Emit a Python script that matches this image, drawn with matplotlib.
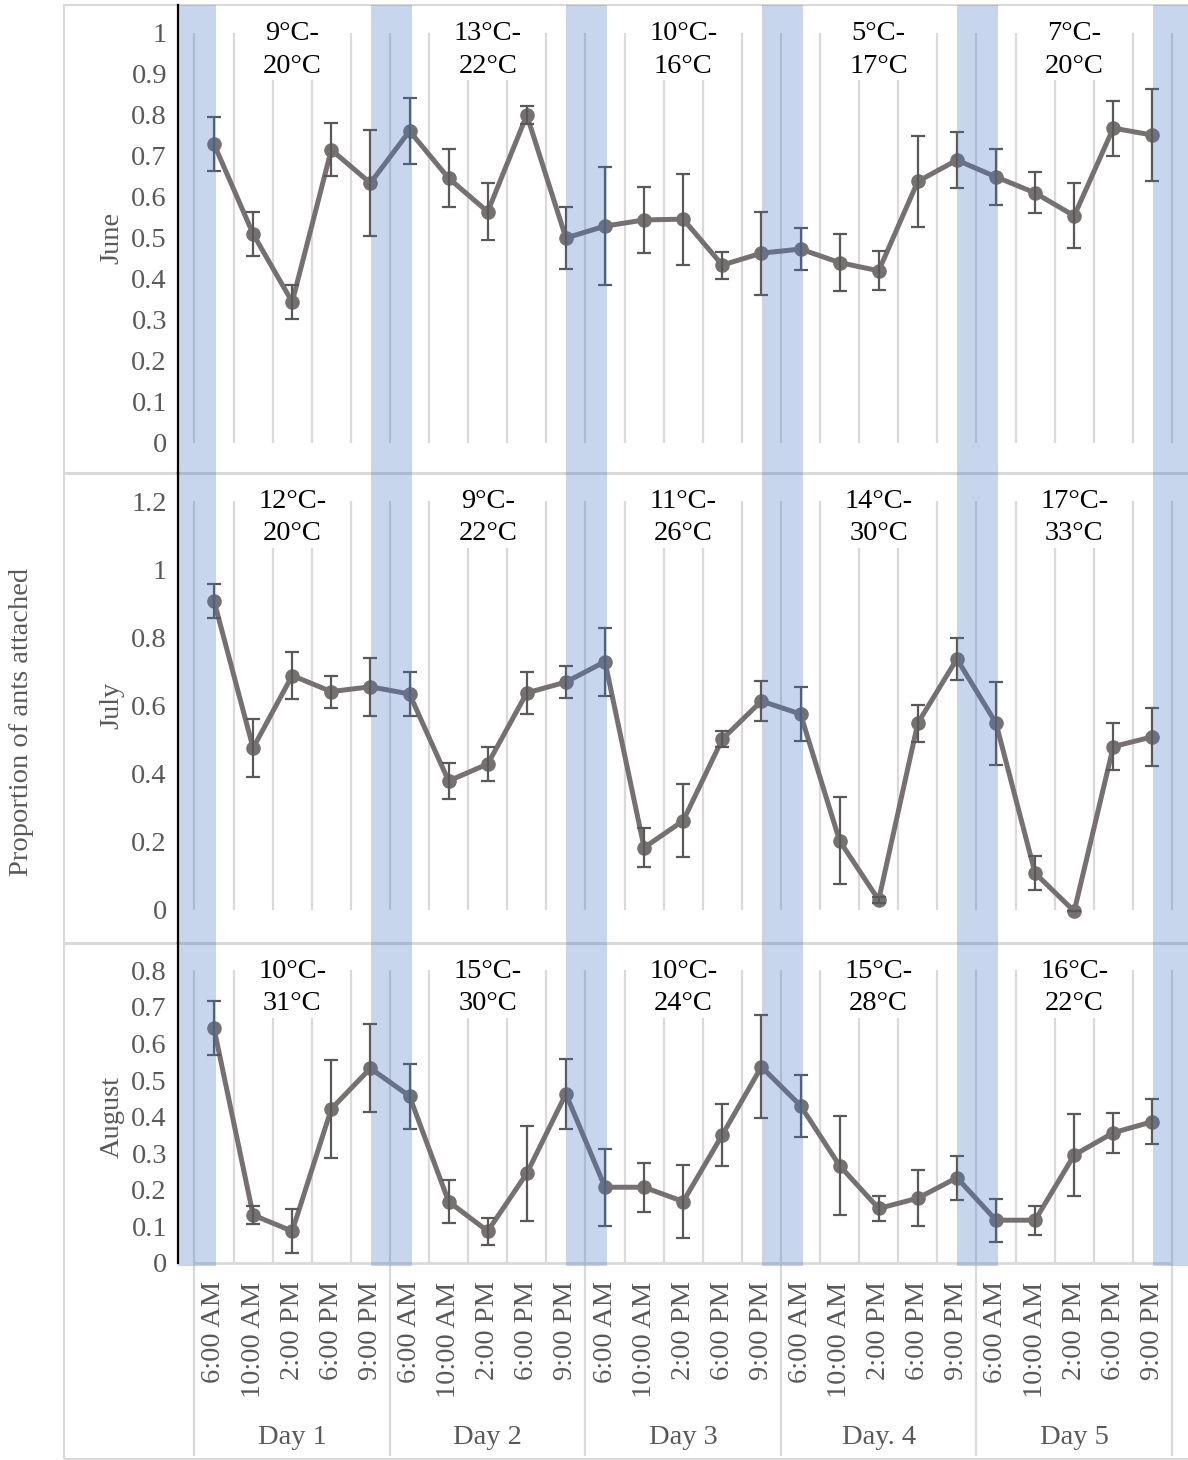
import matplotlib
matplotlib.use("Agg")
import matplotlib.pyplot as plt
import matplotlib.transforms as mtransforms
from matplotlib.lines import Line2D
from matplotlib.patches import Rectangle
import numpy as np

plt.rcParams["font.family"] = ["Liberation Serif", "DejaVu Serif"]

# ---- data ----
time_labels = ["6:00 AM", "10:00 AM", "2:00 PM", "6:00 PM", "9:00 PM"]
day_labels = ["Day 1", "Day 2", "Day 3", "Day. 4", "Day 5"]
months = ["June", "July", "August"]

june_mean = [0.729, 0.51, 0.344, 0.715, 0.634,
             0.761, 0.646, 0.564, 0.80, 0.50,
             0.529, 0.544, 0.546, 0.434, 0.463,
             0.473, 0.44, 0.42, 0.638, 0.69,
             0.649, 0.61, 0.554, 0.768, 0.751]
june_err = [0.065, 0.054, 0.042, 0.065, 0.13,
            0.081, 0.07, 0.069, 0.022, 0.075,
            0.144, 0.08, 0.111, 0.033, 0.101,
            0.051, 0.07, 0.048, 0.111, 0.068,
            0.068, 0.05, 0.079, 0.067, 0.113]

july_mean = [0.908, 0.475, 0.688, 0.641, 0.655,
             0.634, 0.378, 0.428, 0.637, 0.669,
             0.729, 0.182, 0.261, 0.501, 0.613,
             0.575, 0.202, 0.028, 0.548, 0.737,
             0.548, 0.107, -0.005, 0.479, 0.508]
july_err = [0.05, 0.084, 0.068, 0.047, 0.086,
            0.066, 0.053, 0.049, 0.061, 0.046,
            0.10, 0.057, 0.107, 0.024, 0.06,
            0.078, 0.128, 0.01, 0.054, 0.063,
            0.122, 0.05, 0.0, 0.069, 0.086]

aug_mean = [0.641, 0.131, 0.087, 0.421, 0.532,
            0.456, 0.168, 0.087, 0.245, 0.462,
            0.207, 0.207, 0.168, 0.35, 0.536,
            0.43, 0.266, 0.149, 0.177, 0.233,
            0.117, 0.117, 0.295, 0.356, 0.386]
aug_err = [0.074, 0.024, 0.06, 0.135, 0.12,
           0.089, 0.06, 0.037, 0.13, 0.095,
           0.105, 0.067, 0.1, 0.084, 0.141,
           0.085, 0.135, 0.034, 0.076, 0.06,
           0.059, 0.04, 0.113, 0.055, 0.061]

june_temps = ["9°C-\n20°C", "13°C-\n22°C", "10°C-\n16°C", "5°C-\n17°C", "7°C-\n20°C"]
july_temps = ["12°C-\n20°C", "9°C-\n22°C", "11°C-\n26°C", "14°C-\n30°C", "17°C-\n33°C"]
aug_temps = ["10°C-\n31°C", "15°C-\n30°C", "10°C-\n24°C", "15°C-\n28°C", "16°C-\n22°C"]

june_yticks = [0, 0.1, 0.2, 0.3, 0.4, 0.5, 0.6, 0.7, 0.8, 0.9, 1]
july_yticks = [0, 0.2, 0.4, 0.6, 0.8, 1, 1.2]
aug_yticks = [0, 0.1, 0.2, 0.3, 0.4, 0.5, 0.6, 0.7, 0.8]

# ---- layout (pixels of the 1188x1460 canvas) ----
W, H = 1188, 1460
AX_LEFT = 178
X0, DX = 214, 39.1          # first category centre, category width
LINE_C = "#767171"
ERR_C = "#595959"
TXT_C = "#595959"
GRID_C = "#d9d9d9"
BAND_C = "#4472c4"
FS = 20.5

panels = [
    dict(name=months[0], mean=june_mean, err=june_err, temps=june_temps, ticks=june_yticks,
         top=5, bottom=472.7, zero=443, unit=410),
    dict(name=months[1], mean=july_mean, err=july_err, temps=july_temps, ticks=july_yticks,
         top=472.7, bottom=942.7, zero=909.5, unit=340),
    dict(name=months[2], mean=aug_mean, err=aug_err, temps=aug_temps, ticks=aug_yticks,
         top=942.7, bottom=1266, zero=1263, unit=366),
]


def fy(px):
    return 1 - px / H


fig = plt.figure(figsize=(W / 100, H / 100), dpi=100)

# outer frame and panel separators
fig.add_artist(Rectangle((64 / W, fy(1459)), (W + 10 - 64) / W, (1459 - 5) / H,
                         transform=fig.transFigure, fill=False, edgecolor=GRID_C,
                         linewidth=1.5, zorder=-1))
for sep in (472.7, 942.7):
    fig.add_artist(Line2D([64 / W, 1], [fy(sep), fy(sep)], transform=fig.transFigure,
                          color=GRID_C, linewidth=2.2, zorder=-1))

n = len(june_mean)
x = np.arange(n)
n_days = len(day_labels)
per_day = len(time_labels)
xlim = ((AX_LEFT - X0) / DX, (W - X0) / DX)

for i, p in enumerate(panels):
    ax = fig.add_axes([AX_LEFT / W, fy(p["bottom"]), (W - AX_LEFT) / W,
                       (p["bottom"] - p["top"]) / H])
    ax.patch.set_alpha(0)
    ax.set_xlim(*xlim)
    ylim = ((p["zero"] - p["bottom"]) / p["unit"], (p["zero"] - p["top"]) / p["unit"])
    ax.set_ylim(*ylim)
    top_val = p["ticks"][-1]

    # category gridlines
    ax.vlines(np.arange(-0.5, n), 0, top_val, color=GRID_C, linewidth=1.6, zorder=1)

    # series
    ax.plot(x, p["mean"], "-o", color=LINE_C, linewidth=3.6, markersize=9.5, zorder=3)
    ax.errorbar(x, p["mean"], yerr=p["err"], fmt="none", ecolor=ERR_C,
                elinewidth=1.6, capsize=5, capthick=1.6, zorder=3.5)

    # night bands (9 PM -> 6 AM)
    for d in range(n_days + 1):
        ax.axvspan(per_day * d - 0.985, per_day * d + 0.06, color=BAND_C, alpha=0.29,
                   linewidth=0, zorder=4)

    # temperature ranges
    trans = mtransforms.blended_transform_factory(ax.transData, ax.transAxes)
    for d, t in enumerate(p["temps"]):
        ax.annotate(t, xy=(per_day * d + 2, 1), xycoords=trans,
                    xytext=(0, -45 * 0.72), textcoords="offset points",
                    ha="center", va="center", fontsize=FS, color="black",
                    linespacing=1.38, zorder=2,
                    bbox=dict(facecolor="white", edgecolor="none", pad=1))

    # axes styling
    for s in ("top", "right", "bottom"):
        ax.spines[s].set_visible(False)
    ax.spines["left"].set_color("black")
    ax.spines["left"].set_linewidth(1.6)
    ax.spines["left"].set_zorder(5)
    ax.set_yticks(p["ticks"])
    ax.set_yticklabels(["%g" % v for v in p["ticks"]])
    ax.tick_params(axis="y", length=0, pad=8, labelsize=FS, labelcolor=TXT_C)

    # month label centred on the tick range
    mid = p["zero"] - p["unit"] * top_val / 2
    fig.text(112 / W, fy(mid), p["name"], rotation=90, ha="center", va="center",
             fontsize=FS, color=TXT_C)

    if i < len(panels) - 1:
        ax.set_xticks([])
    else:
        ax.spines["left"].set_bounds(0, ylim[1])
        ax.hlines(0, -0.5, n - 0.5, color=GRID_C, linewidth=2, zorder=1)
        ax.set_xticks(x)
        ax.set_xticklabels(time_labels * n_days, rotation=90, va="top", ha="center")
        ax.tick_params(axis="x", length=0, pad=11, labelsize=FS, labelcolor=TXT_C)
        btrans = mtransforms.blended_transform_factory(ax.transData, fig.transFigure)
        for d in range(n_days + 1):
            xb = per_day * d - 0.5
            ax.add_line(Line2D([xb, xb], [fy(p["zero"]), fy(1455)], transform=btrans,
                               color=GRID_C, linewidth=1.6, clip_on=False))
        for d, lab in enumerate(day_labels):
            ax.text(per_day * d + 2, fy(1437), lab, transform=btrans, ha="center",
                    va="center", fontsize=FS, color=TXT_C)

fig.text(22 / W, fy(722), "Proportion of ants attached", rotation=90, ha="center",
         va="center", fontsize=FS, color=TXT_C)

fig.savefig("out.png", dpi=100)
